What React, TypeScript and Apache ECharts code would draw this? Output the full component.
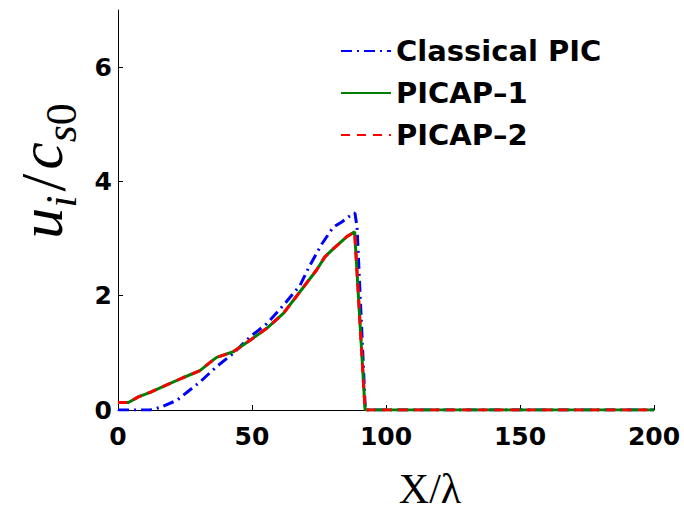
import React, { useEffect, useRef } from "react";
import * as echarts from "echarts";

// Classical PIC (blue dash-dot)
const classicalX = [0, 12, 16, 22, 26, 30.6, 36.8, 43, 49.3, 55.5, 61.7, 67.9, 71.6, 76, 80.3, 83.5, 86, 88.4, 89.2, 92.3, 200];
const classicalY = [0, 0, 0.05, 0.17, 0.32, 0.49, 0.76, 0.99, 1.28, 1.51, 1.83, 2.18, 2.53, 2.9, 3.2, 3.29, 3.38, 3.45, 3.2, 0, 0];

// PICAP-1 (green solid)
const picap1X = [0, 3.9, 7.6, 12, 18.2, 24, 30.6, 34, 36.8, 43, 49.3, 55.5, 61.7, 67.9, 74.1, 77.2, 80.3, 85.3, 88.3, 92.2, 200];
const picap1Y = [0.13, 0.13, 0.23, 0.31, 0.44, 0.56, 0.69, 0.82, 0.92, 1.02, 1.22, 1.43, 1.69, 2.07, 2.45, 2.68, 2.82, 3.03, 3.12, 0, 0];

// PICAP-2 (red dashed)
const picap2X = [0, 3.9, 7.6, 12, 18.2, 24, 30.6, 34, 36.8, 43, 49.3, 55.5, 61.7, 67.9, 74.1, 77.2, 80.3, 85.3, 88.3, 92.2, 200];
const picap2Y = [0.13, 0.13, 0.23, 0.31, 0.44, 0.56, 0.69, 0.82, 0.92, 1.02, 1.22, 1.43, 1.69, 2.07, 2.45, 2.68, 2.82, 3.03, 3.12, 0, 0];

const seriesNames = ["Classical PIC", "PICAP\u20131", "PICAP\u20132"];
const xTicks = { min: 0, max: 200, interval: 50 };
const yTicks = { min: 0, max: 7, interval: 2 };

const pairs = (xs: number[], ys: number[]) => xs.map((x, i) => [x, ys[i]]);

export default function App() {
  const ref = useRef<HTMLDivElement>(null);
  useEffect(() => {
    const chart = echarts.init(ref.current!, null, { renderer: "svg" });
    const serif = "'Liberation Serif', 'DejaVu Serif', serif";
    chart.setOption({
      animation: false,
      backgroundColor: "#ffffff",
      textStyle: { fontFamily: "'DejaVu Sans', sans-serif" },
      grid: { left: 118, right: 30, top: 10, bottom: 101, containLabel: false, outerBoundsMode: "none" },
      legend: {
        data: seriesNames,
        orient: "vertical",
        left: 335,
        top: 31,
        itemWidth: 50,
        itemHeight: 14,
        itemGap: 12,
        itemStyle: { opacity: 0, borderWidth: 0 },
        textStyle: { fontFamily: "'DejaVu Sans', sans-serif", fontWeight: "bold", fontSize: 29, color: "#000", lineHeight: 30 },
      },
      xAxis: {
        type: "value",
        min: xTicks.min,
        max: xTicks.max,
        interval: xTicks.interval,
        splitLine: { show: false },
        axisLine: { onZero: false, lineStyle: { color: "#000", width: 1 } },
        axisTick: { inside: true, length: 5, lineStyle: { color: "#000" } },
        axisLabel: { color: "#000", fontSize: 25, fontWeight: "bold", margin: 14 },
        name: "X/\u03bb",
        nameLocation: "middle",
        nameGap: 58,
        nameTextStyle: { fontFamily: serif, fontSize: 42, lineHeight: 42, color: "#000", padding: [0, 0, 0, 88] },
      },
      yAxis: {
        type: "value",
        min: yTicks.min,
        max: yTicks.max,
        interval: yTicks.interval,
        splitLine: { show: false },
        axisLine: { onZero: false, lineStyle: { color: "#000", width: 1 } },
        axisTick: { inside: true, length: 5, lineStyle: { color: "#000" } },
        axisLabel: { color: "#000", fontSize: 25, fontWeight: "bold", margin: 6, showMaxLabel: false },
        name: "{u|u}{si|i}{sl|/}{u|c}{si|s}{s0|0}",
        nameLocation: "middle",
        nameRotate: 90,
        nameGap: 30,
        nameTextStyle: {
          padding: [0, 0, 0, 78],
          rich: {
            u: { fontFamily: serif, fontStyle: "italic", fontSize: 62, color: "#000", verticalAlign: "top" },
            sl: { fontFamily: serif, fontSize: 64, color: "#000", verticalAlign: "top", padding: [2, 4, 0, 4] },
            si: { fontFamily: serif, fontStyle: "italic", fontSize: 44, color: "#000", verticalAlign: "top", padding: [30, 0, 0, 0] },
            s0: { fontFamily: serif, fontSize: 44, color: "#000", verticalAlign: "top", padding: [30, 0, 0, 0] },
          },
        },
      },
      series: [
        {
          name: seriesNames[0],
          type: "line",
          data: pairs(classicalX, classicalY),
          symbol: "none",
          smooth: false,
          lineStyle: { color: "#0000ff", width: 3, type: [11, 5, 2, 5] },
          itemStyle: { color: "#0000ff" },
          z: 2,
        },
        {
          name: seriesNames[1],
          type: "line",
          data: pairs(picap1X, picap1Y),
          symbol: "none",
          lineStyle: { color: "#008000", width: 3, type: "solid" },
          itemStyle: { color: "#008000" },
          z: 3,
        },
        {
          name: seriesNames[2],
          type: "line",
          data: pairs(picap2X, picap2Y),
          symbol: "none",
          lineStyle: { color: "#ff0000", width: 3, type: [9, 7] },
          itemStyle: { color: "#ff0000" },
          z: 4,
        },
      ],
    });
    return () => chart.dispose();
  }, []);
  return (
    <div
      ref={ref}
      style={{ position: "fixed", left: 0, top: 0, width: 684, height: 511, background: "#fff" }}
    />
  );
}
